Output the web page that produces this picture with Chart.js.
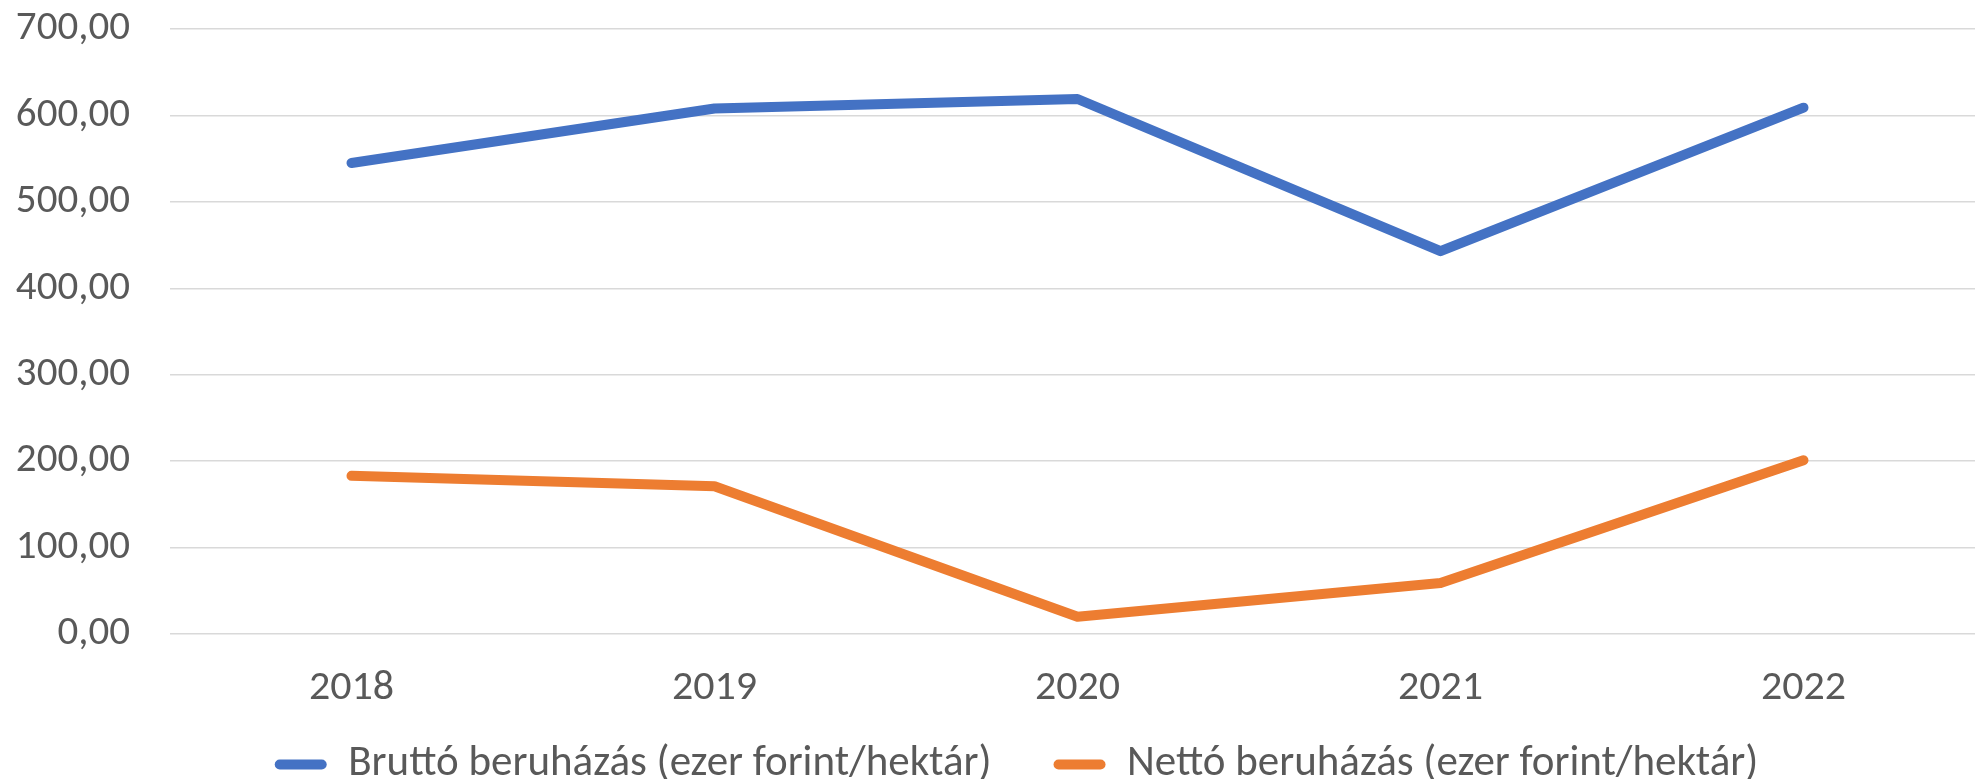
<!DOCTYPE html>
<html>
<head>
<meta charset="utf-8">
<script src="https://cdn.jsdelivr.net/npm/chart.js@4/dist/chart.umd.min.js"></script>
<style>
  html, body { margin: 0; padding: 0; background: #fff; overflow: hidden; }
  #wrap { width: 1988px; height: 796px; }
</style>
</head>
<body>
<div id="wrap"><canvas id="myChart"></canvas></div>
<script>
// adatok
const years = ["2018", "2019", "2020", "2021", "2022"];
const brutto = [545, 608, 619, 443, 609];
const netto = [183, 171, 20, 59, 201];
const yTicks = [0, 100, 200, 300, 400, 500, 600, 700];

const fontFamily = "Carlito, 'Open Sans', 'Liberation Sans', sans-serif";
const textColor = '#595959';

let data = {
    labels: years,
    datasets: [
        {
            label: "Bruttó beruházás (ezer forint/hektár)",
            borderColor: '#4472C4',
            backgroundColor: '#4472C4',
            borderWidth: 10,
            borderCapStyle: 'round',
            borderJoinStyle: 'round',
            pointRadius: 0,
            tension: 0,
            data: brutto
        },
        {
            label: "Nettó beruházás (ezer forint/hektár)",
            borderColor: '#ED7D31',
            backgroundColor: '#ED7D31',
            borderWidth: 10,
            borderCapStyle: 'round',
            borderJoinStyle: 'round',
            pointRadius: 0,
            tension: 0,
            data: netto
        }
    ]
};

// a legenda nagyobb vizszintes kozzel, de ugyanott marad fuggolegesen
const legendShift = {
    id: 'legendShift',
    afterLayout: function (chart) {
        const lg = chart.legend;
        lg.top -= 40;
        lg.bottom = lg.top + 200;
        lg.left += 24; lg.right += 24;
    }
};

let options = {
    responsive: true,
    maintainAspectRatio: false,
    animation: false,
    layout: { padding: { left: 0, right: 3, top: 0, bottom: 0 } },
    plugins: {
        tooltip: { enabled: false },
        legend: {
            position: 'bottom',
            maxHeight: 75,
            labels: {
                color: textColor,
                font: { family: fontFamily, size: 43 },
                boxWidth: 52,
                boxHeight: 10,
                useBorderRadius: true,
                borderRadius: 5,
                padding: 62,
                generateLabels: function (chart) {
                    return chart.data.datasets.map(function (ds, i) {
                        return {
                            text: ds.label,
                            fillStyle: ds.borderColor,
                            strokeStyle: ds.borderColor,
                            lineWidth: 0,
                            borderRadius: 5,
                            fontColor: textColor,
                            datasetIndex: i
                        };
                    });
                }
            }
        }
    },
    scales: {
        x: {
            offset: true,
            grid: { display: false, drawTicks: false },
            border: { display: false },
            ticks: {
                color: textColor,
                font: { family: fontFamily, size: 42 },
                padding: 29
            },
            afterFit: function (axis) { axis.height = 87; }
        },
        y: {
            min: 0,
            max: 700,
            afterBuildTicks: function (axis) {
                axis.ticks = yTicks.map(function (v) { return { value: v }; });
            },
            grid: { color: '#d9d9d9', lineWidth: 1.5, drawTicks: false },
            border: { display: false },
            ticks: {
                color: textColor,
                font: { family: fontFamily, size: 41 },
                padding: 40,
                callback: function (v) { return v.toFixed(2).replace('.', ','); }
            },
            afterFit: function (axis) {
                axis.width = 170;
                axis.paddingTop = 29;
                axis.paddingBottom = 0;
            }
        }
    }
};

let ctx = document.getElementById("myChart").getContext("2d");
let myLineChart = new Chart(ctx, {
    type: 'line',
    data: data,
    options: options,
    plugins: [legendShift]
});
</script>
</body>
</html>
